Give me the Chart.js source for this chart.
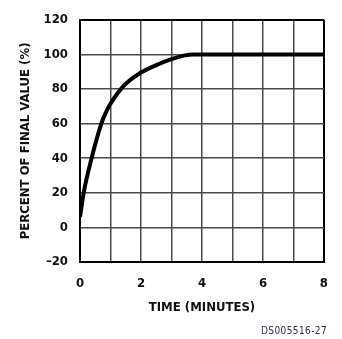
<!DOCTYPE html>
<html>
<head>
<meta charset="utf-8">
<script src="https://cdn.jsdelivr.net/npm/chart.js@4"></script>
<style>
    html, body { margin: 0; padding: 0; background: #fff; }
    #wrap { position: relative; width: 342px; height: 339px; }
    #code {
        position: absolute; left: 261px; top: 325px;
        font: 10px "DejaVu Sans Condensed", "Liberation Sans Narrow", sans-serif;
        color: #2a2f55; letter-spacing: 0.4px;
    }
</style>
</head>
<body>
<div id="wrap">
    <canvas id="responseChart" width="342" height="339"></canvas>
    <div id="code">DS005516-27</div>
</div>
<script>
// STEP RESPONSE DATA (time in minutes, percent of final value)
const timeMinutes = [0, 0.12, 0.38, 0.7, 0.85, 1.0, 1.25, 1.5, 2.0, 2.5, 3.0, 3.4, 3.7, 4.0, 6.0, 8.0];
const percentFinal = [6, 20, 40, 60, 66.5, 71.5, 78, 83, 89.5, 93.8, 97.3, 99.3, 100, 100, 100, 100];

const xTicks = [0, 2, 4, 6, 8];
const yTicks = [-20, 0, 20, 40, 60, 80, 100, 120];

const FONT = "'Liberation Sans Narrow', 'DejaVu Sans Condensed', 'Arial Narrow', sans-serif";

const points = timeMinutes.map((t, i) => ({ x: t, y: percentFinal[i] }));

// grid lines grey inside, black on the outer frame
function gridColor(ctx, min, max) {
    const v = ctx.tick ? ctx.tick.value : null;
    return (v === min || v === max) ? '#000' : '#4a4a4a';
}
function gridWidth(ctx, min, max) {
    const v = ctx.tick ? ctx.tick.value : null;
    return (v === min || v === max) ? 2 : 1.5;
}

const ctx = document.getElementById('responseChart').getContext('2d');
new Chart(ctx, {
    type: 'line',
    data: {
        datasets: [{
            data: points,
            borderColor: '#000',
            borderWidth: 4,
            pointRadius: 0,
            cubicInterpolationMode: 'monotone',
            fill: false
        }]
    },
    options: {
        responsive: false,
        animation: false,
        layout: { padding: { left: 18, right: 16, top: 15, bottom: 17 } },
        plugins: { legend: { display: false }, tooltip: { enabled: false } },
        scales: {
            x: {
                type: 'linear',
                min: 0,
                max: 8,
                afterFit: s => { s.height = 60; },
                grid: {
                    drawTicks: false,
                    color: c => gridColor(c, 0, 8),
                    lineWidth: c => gridWidth(c, 0, 8)
                },
                border: { color: '#000', width: 2 },
                ticks: {
                    stepSize: 1,
                    padding: 14,
                    color: '#111',
                    font: { family: FONT, size: 13, weight: 'bold' },
                    callback: v => xTicks.includes(v) ? String(v) : ''
                },
                title: {
                    display: true,
                    text: 'TIME (MINUTES)',
                    color: '#111',
                    font: { family: FONT, size: 13, weight: 'bold' },
                    padding: { top: 0, bottom: 7 }
                }
            },
            y: {
                min: -20,
                max: 120,
                afterFit: s => { s.width = 62; },
                grid: {
                    drawTicks: false,
                    color: c => gridColor(c, -20, 120),
                    lineWidth: c => gridWidth(c, -20, 120)
                },
                border: { color: '#000', width: 2 },
                ticks: {
                    stepSize: 20,
                    padding: 12,
                    color: '#111',
                    font: { family: FONT, size: 13, weight: 'bold' },
                    callback: v => yTicks.includes(v) ? (v < 0 ? '\u2013' + Math.abs(v) : String(v)) : ''
                },
                title: {
                    display: true,
                    text: 'PERCENT OF FINAL VALUE (%)',
                    color: '#111',
                    font: { family: FONT, size: 13, weight: 'bold' },
                    padding: { top: 0, bottom: 0 }
                }
            }
        }
    }
});
</script>
</body>
</html>
